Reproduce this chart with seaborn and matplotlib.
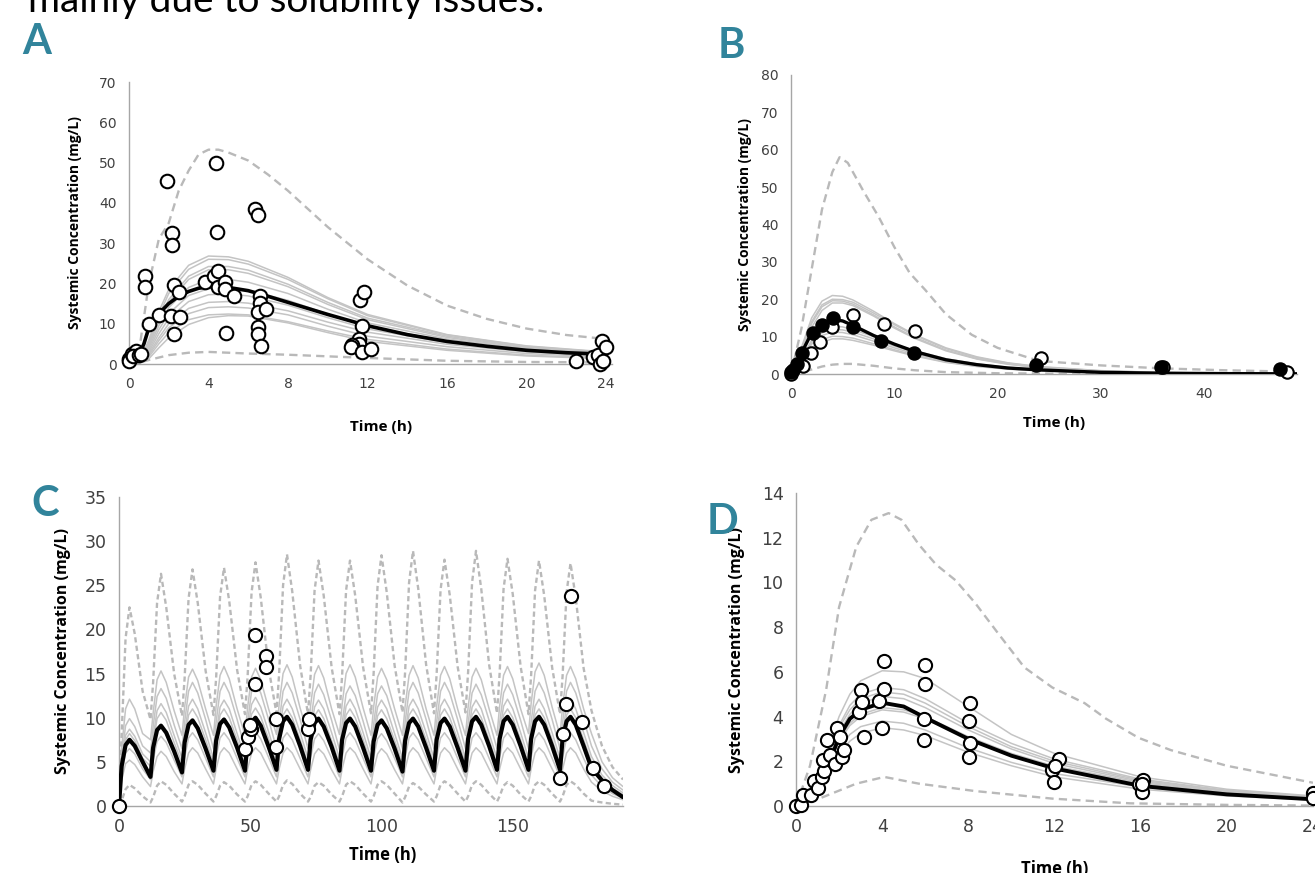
import numpy as np
import pandas as pd
import seaborn as sns
import matplotlib.pyplot as plt

# ---------------- Panel A: single dose, 0-24 h ----------------
A_GRID = [0, 0.5, 1, 1.5, 2, 3, 4, 5, 6, 8, 10, 12, 16, 20, 24]
A_SIMS = [
    [0, 0.3, 6.0, 13.0, 18.5, 24.5, 26.8, 26.6, 25.5, 21.5, 16.5, 12.3, 7.3, 4.5, 3.0],
    [0, 0.3, 5.5, 12.0, 17.5, 23.5, 26.0, 25.9, 24.8, 21.0, 16.2, 12.0, 7.2, 4.4, 2.9],
    [0, 0.3, 5.0, 11.0, 16.0, 21.8, 24.2, 24.2, 23.3, 19.8, 15.3, 11.4, 6.9, 4.2, 2.8],
    [0, 0.3, 4.5, 10.5, 15.3, 21.0, 23.4, 23.4, 22.5, 19.2, 14.8, 11.0, 6.6, 4.0, 2.6],
    [0, 0.3, 4.0, 9.5, 14.0, 19.0, 21.0, 21.0, 20.3, 17.5, 13.6, 10.2, 6.2, 3.8, 2.5],
    [0, 0.3, 3.5, 8.5, 12.5, 17.0, 18.7, 18.9, 18.3, 15.8, 12.4, 9.3, 5.7, 3.5, 2.3],
    [0, 0.2, 3.0, 7.5, 11.3, 15.5, 17.2, 17.4, 16.9, 14.6, 11.5, 8.7, 5.3, 3.3, 2.1],
    [0, 0.2, 2.6, 6.5, 10.0, 13.8, 15.3, 15.5, 15.1, 13.2, 10.4, 7.9, 4.9, 3.0, 1.9],
    [0, 0.2, 2.2, 5.8, 9.0, 12.5, 14.0, 14.2, 13.9, 12.2, 9.4, 6.9, 4.3, 2.6, 1.7],
    [0, 0.2, 1.8, 5.0, 7.8, 11.0, 12.2, 12.4, 12.2, 10.5, 8.2, 6.1, 3.7, 2.2, 1.4],
    [0, 0.1, 1.3, 4.0, 6.5, 9.8, 11.5, 12.0, 11.9, 10.2, 7.8, 5.6, 3.4, 2.0, 1.3],
]
A_MEAN_T = [0, 0.25, 0.5, 0.75, 1, 1.5, 2, 2.5, 3, 3.5, 4, 5, 6, 7, 8, 10, 12, 14, 16, 18, 20, 22, 24]
A_MEAN = [1.0, 1.5, 2.2, 5.0, 9.0, 12.5, 15.0, 16.8, 18.0, 18.8, 19.2, 19.0, 18.2, 16.8, 15.3,
          12.3, 9.5, 7.3, 5.6, 4.4, 3.4, 2.8, 2.4]
A_UP_T = [0, 0.5, 1, 1.5, 2, 2.5, 3, 3.5, 4, 4.5, 5, 6, 7, 8, 10, 12, 14, 16, 18, 20, 22, 24]
A_UP = [0, 3, 20, 31, 35, 43, 48, 52, 53.2, 53.2, 52.5, 50.5, 47, 43, 34, 26, 19.5, 14.5, 11.2, 8.8, 7.2, 6.2]
A_LO_T = [0, 0.5, 1, 2, 3, 4, 6, 8, 10, 12, 16, 20, 24]
A_LO = [0, 0.3, 1.0, 2.2, 2.8, 3.0, 2.6, 2.3, 1.9, 1.5, 0.8, 0.5, 0.4]
A_OBS_T = [0, 0.0, 0.15, 0.33, 0.2, 0.5, 0.6, 0.8, 0.8, 1.0, 1.5, 1.9, 2.18, 2.18, 2.24, 2.1,
           2.27, 2.5, 2.55, 3.8, 4.4, 4.45, 4.3, 4.5, 4.5, 4.85, 4.82, 4.9, 5.27, 6.34, 6.47,
           6.58, 6.58, 6.47, 6.9, 6.5, 6.47, 6.65, 11.6, 11.8, 11.7, 11.57, 11.55, 11.2, 11.15,
           11.7, 12.16, 22.5, 23.35, 23.6, 23.7, 23.8, 24.0, 23.86]
A_OBS_C = [1.2, 0.8, 2.5, 3.3, 2.0, 2.3, 2.5, 21.9, 19.0, 9.9, 12.1, 45.5, 32.6, 29.5, 19.6, 12.0,
           7.4, 17.8, 11.7, 20.4, 49.8, 32.8, 21.9, 23.1, 19.0, 20.4, 18.6, 7.8, 16.8, 38.4, 37.0,
           16.9, 15.1, 13.0, 13.6, 9.3, 7.4, 4.5, 15.9, 17.8, 9.5, 6.2, 5.0, 4.7, 4.1,
           3.1, 3.7, 0.8, 1.7, 2.2, 0.0, 5.6, 4.1, 0.8]

# ---------------- Panel B: single dose, 0-48 h ----------------
B_GRID = [0, 0.5, 1, 2, 3, 4, 5, 6, 8, 10, 12, 15, 18, 21, 24, 30, 36, 42, 49]
B_SIMS = [
    [0, 3.0, 7.0, 15.0, 19.5, 21.0, 20.8, 19.8, 16.8, 13.5, 10.5, 7.0, 4.6, 3.0, 2.0, 0.9, 0.4, 0.2, 0.1],
    [0, 2.8, 6.5, 14.0, 18.5, 20.0, 19.9, 19.2, 16.3, 13.2, 10.3, 6.8, 4.4, 2.9, 1.9, 0.85, 0.4, 0.2, 0.1],
    [0, 2.5, 6.0, 13.5, 18.0, 19.6, 19.5, 18.7, 15.8, 12.6, 9.8, 6.4, 4.1, 2.7, 1.7, 0.8, 0.35, 0.15, 0.1],
    [0, 2.3, 5.5, 12.5, 17.0, 19.0, 19.0, 18.3, 15.5, 12.3, 9.5, 6.2, 4.0, 2.6, 1.7, 0.75, 0.35, 0.15, 0.1],
    [0, 1.6, 4.0, 9.0, 11.8, 12.8, 12.6, 11.9, 10.0, 8.0, 6.2, 4.1, 2.7, 1.8, 1.2, 0.5, 0.25, 0.1, 0.05],
    [0, 1.5, 3.7, 8.5, 11.0, 11.9, 11.8, 11.2, 9.4, 7.5, 5.8, 3.8, 2.5, 1.6, 1.05, 0.45, 0.2, 0.1, 0.05],
    [0, 1.4, 3.4, 8.0, 10.3, 11.2, 11.1, 10.5, 8.8, 7.0, 5.4, 3.5, 2.3, 1.5, 1.0, 0.4, 0.2, 0.1, 0.05],
    [0, 1.2, 3.0, 7.0, 9.2, 10.1, 10.0, 9.6, 8.1, 6.5, 5.0, 3.2, 2.1, 1.4, 0.9, 0.4, 0.2, 0.1, 0.05],
    [0, 1.0, 2.6, 6.3, 8.5, 9.4, 9.4, 9.0, 7.7, 6.2, 4.8, 3.1, 2.0, 1.3, 0.85, 0.35, 0.15, 0.05, 0.05],
]
B_MEAN = [0.5, 2.5, 5.5, 11.0, 13.5, 14.6, 14.2, 13.0, 10.3, 8.0, 6.0, 3.8, 2.5, 1.6, 1.1, 0.45, 0.2, 0.1, 0.05]
B_UP_T = [0, 1, 2, 3, 4, 4.7, 5.5, 7, 8.5, 10, 11.5, 13, 15, 17.5, 20, 24, 30, 36, 42, 49]
B_UP = [0, 12, 28, 44, 54, 58, 56.5, 49, 42, 34, 27, 22.5, 16, 10.5, 7, 3.5, 2.3, 1.5, 1.0, 0.6]
B_LO_T = [0, 1, 2, 3, 4, 5, 6, 8, 10, 12, 15, 20, 30, 49]
B_LO = [0, 0.5, 1.2, 2.0, 2.5, 2.7, 2.7, 2.2, 1.5, 1.0, 0.5, 0.2, 0.05, 0]
B_OPEN_T = [0, 1.2, 1.9, 2.8, 4.0, 6.0, 9.0, 12.0, 24.2, 36.0, 48.0]
B_OPEN_C = [0.0, 2.1, 5.5, 8.5, 12.7, 15.8, 13.3, 11.5, 4.2, 2.0, 0.6]
B_FILL_T = [0, 0.2, 0.6, 1.1, 2.1, 3.0, 4.1, 6.0, 8.75, 11.9, 23.7, 35.8, 47.4]
B_FILL_C = [0.6, 1.0, 2.7, 5.7, 10.9, 13.0, 15.1, 12.7, 8.7, 5.7, 2.4, 1.8, 1.4]

# ---------------- Panel C: repeated dosing every 12 h ----------------
C_GRID = [0, 1, 2.5, 4, 6, 9, 12, 13, 14.5, 16, 18, 21, 24, 25, 26.5, 28, 30, 33,
          36, 37, 38.5, 40, 42, 45, 48, 49, 50.5, 52, 54, 57, 60, 61, 62.5, 64, 66, 69,
          72, 73, 74.5, 76, 78, 81, 84, 85, 86.5, 88, 90, 93, 96, 97, 98.5, 100, 102, 105,
          108, 109, 110.5, 112, 114, 117, 120, 121, 122.5, 124, 126, 129, 132, 133, 134.5, 136, 138, 141,
          144, 145, 146.5, 148, 150, 153, 156, 157, 158.5, 160, 162, 165, 168, 169, 170.5, 172, 174, 177,
          180, 184, 188, 192]
C_MEAN = [0, 4.5, 6.9, 7.5, 6.8, 5.0, 3.3, 6.6, 8.6, 9.1, 8.3, 6.2, 3.8, 7.2, 9.2, 9.7, 8.8, 6.5,
          4.0, 7.4, 9.3, 9.8, 8.9, 6.6, 4.0, 7.5, 9.5, 10.0, 9.1, 6.7, 4.1, 7.6, 9.6, 10.1, 9.2, 6.8,
          4.1, 7.5, 9.4, 9.9, 9.0, 6.7, 4.0, 7.5, 9.4, 9.9, 9.0, 6.6, 4.0, 7.3, 9.2, 9.7, 8.8, 6.5,
          3.9, 7.4, 9.4, 9.9, 9.0, 6.6, 4.0, 7.5, 9.4, 9.9, 9.0, 6.6, 4.0, 7.6, 9.6, 10.1, 9.2, 6.8,
          4.1, 7.6, 9.6, 10.1, 9.2, 6.8, 4.1, 7.6, 9.6, 10.1, 9.2, 6.8, 4.1, 7.6, 9.6, 10.1, 9.2, 6.8,
          4.3, 2.9, 1.8, 1.0]
C_UP = [0, 8.0, 19.0, 22.5, 19.5, 13.0, 9.8, 14.0, 23.0, 26.3, 22.5, 15.0, 10.2, 14.5, 23.5, 26.8, 23.0, 15.3,
        10.3, 14.5, 23.7, 27.0, 23.2, 15.4, 10.4, 14.7, 24.2, 27.6, 23.6, 15.6, 10.5, 15.0, 25.0, 28.5, 24.3, 15.9,
        10.4, 14.8, 24.4, 27.8, 23.8, 15.7, 10.4, 14.8, 24.4, 27.8, 23.8, 15.7, 10.5, 15.0, 24.9, 28.4, 24.2, 15.9,
        10.6, 15.2, 25.3, 28.9, 24.6, 16.0, 10.5, 14.9, 24.5, 27.9, 23.9, 15.8, 10.6, 15.2, 25.3, 28.9, 24.6, 16.0,
        10.5, 15.0, 24.6, 28.0, 24.0, 15.8, 10.4, 14.8, 24.4, 27.8, 23.8, 15.7, 10.4, 14.8, 24.2, 27.5, 23.6, 15.6,
        10.8, 6.8, 4.4, 3.0]
C_LO = [0, 0.6, 1.9, 2.4, 2.0, 1.1, 0.4, 1.0, 2.3, 2.8, 2.4, 1.4, 0.5, 1.1, 2.4, 2.8, 2.4, 1.4,
        0.5, 1.1, 2.3, 2.7, 2.3, 1.3, 0.5, 1.1, 2.4, 2.8, 2.4, 1.4, 0.5, 1.1, 2.4, 2.9, 2.5, 1.4,
        0.5, 1.0, 2.3, 2.7, 2.3, 1.3, 0.5, 1.1, 2.4, 2.8, 2.4, 1.4, 0.5, 1.1, 2.4, 2.8, 2.4, 1.4,
        0.4, 1.0, 2.2, 2.6, 2.2, 1.3, 0.5, 1.1, 2.4, 2.8, 2.4, 1.4, 0.5, 1.1, 2.4, 2.8, 2.4, 1.4,
        0.5, 1.1, 2.3, 2.7, 2.3, 1.3, 0.5, 1.1, 2.4, 2.8, 2.4, 1.4, 0.5, 1.1, 2.4, 2.8, 2.4, 1.4,
        0.6, 0.4, 0.25, 0.15]
C_SIMS = [
    [0, 6.5, 11.0, 12.1, 11.0, 8.2, 7.5, 10.5, 14.3, 15.3, 14.0, 10.8, 8.0, 11.2, 14.6, 15.5, 14.2, 11.0,
     8.0, 11.3, 14.8, 15.8, 14.4, 11.0, 8.0, 11.2, 14.6, 15.6, 14.3, 11.0, 8.1, 11.5, 15.0, 16.0, 14.6, 11.1,
     8.0, 11.4, 14.9, 15.9, 14.5, 11.0, 8.1, 11.5, 15.0, 16.0, 14.6, 11.1, 8.0, 11.2, 14.6, 15.6, 14.3, 11.0,
     8.0, 11.3, 14.8, 15.9, 14.5, 11.0, 8.0, 11.3, 14.8, 15.8, 14.4, 11.0, 8.0, 11.2, 14.6, 15.6, 14.3, 11.0,
     8.0, 11.3, 14.8, 15.8, 14.4, 11.0, 8.2, 11.6, 15.2, 16.2, 14.8, 11.2, 8.0, 11.3, 14.8, 15.8, 14.4, 11.0,
     8.2, 5.0, 3.2, 2.2],
    [0, 5.4, 9.1, 9.9, 9.0, 6.8, 6.0, 9.0, 12.4, 13.3, 12.2, 9.2, 6.5, 9.5, 13.0, 14.0, 12.8, 9.8,
     6.5, 9.5, 13.0, 14.0, 12.8, 9.8, 6.5, 9.5, 13.0, 14.0, 12.8, 9.8, 6.5, 9.5, 13.0, 14.0, 12.8, 9.8,
     6.5, 9.4, 12.8, 13.8, 12.6, 9.7, 6.4, 9.3, 12.7, 13.6, 12.5, 9.6, 6.4, 9.3, 12.7, 13.6, 12.5, 9.6,
     6.5, 9.5, 13.0, 14.0, 12.8, 9.8, 6.5, 9.5, 13.0, 14.0, 12.8, 9.8, 6.5, 9.4, 12.8, 13.8, 12.6, 9.7,
     6.5, 9.4, 12.8, 13.8, 12.6, 9.7, 6.5, 9.5, 13.0, 14.0, 12.8, 9.8, 6.5, 9.5, 13.0, 14.0, 12.8, 9.8,
     6.8, 4.2, 2.7, 1.8],
    [0, 4.8, 8.0, 8.7, 7.9, 5.9, 5.0, 7.8, 10.8, 11.6, 10.6, 8.0, 5.4, 8.3, 11.3, 12.1, 11.0, 8.3,
     5.4, 8.2, 11.2, 12.0, 11.0, 8.2, 5.4, 8.4, 11.5, 12.3, 11.2, 8.4, 5.4, 8.3, 11.3, 12.1, 11.0, 8.3,
     5.4, 8.3, 11.2, 12.0, 11.0, 8.3, 5.4, 8.3, 11.3, 12.1, 11.0, 8.3, 5.4, 8.2, 11.2, 12.0, 11.0, 8.2,
     5.4, 8.3, 11.3, 12.1, 11.0, 8.3, 5.4, 8.3, 11.3, 12.1, 11.0, 8.3, 5.4, 8.2, 11.2, 12.0, 11.0, 8.2,
     5.4, 8.3, 11.3, 12.1, 11.0, 8.3, 5.4, 8.3, 11.3, 12.1, 11.0, 8.3, 5.4, 8.3, 11.3, 12.1, 11.0, 8.3,
     5.6, 3.5, 2.3, 1.5],
    [0, 4.5, 7.5, 8.2, 7.4, 5.4, 4.5, 7.1, 9.9, 10.6, 9.7, 7.2, 4.8, 7.5, 10.3, 11.0, 10.0, 7.5,
     4.8, 7.5, 10.3, 11.0, 10.0, 7.5, 4.8, 7.6, 10.4, 11.1, 10.1, 7.6, 4.8, 7.5, 10.3, 11.0, 10.0, 7.5,
     4.8, 7.4, 10.2, 10.9, 9.9, 7.4, 4.8, 7.5, 10.3, 11.0, 10.0, 7.5, 4.8, 7.4, 10.2, 10.9, 9.9, 7.4,
     4.8, 7.5, 10.3, 11.0, 10.0, 7.5, 4.8, 7.5, 10.3, 11.0, 10.0, 7.5, 4.8, 7.5, 10.3, 11.0, 10.0, 7.5,
     4.8, 7.5, 10.3, 11.0, 10.0, 7.5, 4.8, 7.5, 10.3, 11.0, 10.0, 7.5, 4.8, 7.5, 10.3, 11.0, 10.0, 7.5,
     5.0, 3.1, 2.0, 1.3],
    [0, 3.6, 6.0, 6.5, 5.9, 4.2, 3.0, 5.2, 7.3, 7.9, 7.2, 5.2, 3.3, 5.5, 7.7, 8.3, 7.5, 5.4,
     3.3, 5.5, 7.7, 8.3, 7.5, 5.4, 3.3, 5.6, 7.8, 8.4, 7.6, 5.5, 3.3, 5.5, 7.7, 8.3, 7.5, 5.4,
     3.3, 5.5, 7.6, 8.2, 7.4, 5.4, 3.3, 5.5, 7.7, 8.3, 7.5, 5.4, 3.3, 5.5, 7.6, 8.2, 7.4, 5.4,
     3.3, 5.5, 7.7, 8.3, 7.5, 5.4, 3.3, 5.5, 7.7, 8.3, 7.5, 5.4, 3.3, 5.5, 7.7, 8.3, 7.5, 5.4,
     3.3, 5.5, 7.7, 8.3, 7.5, 5.4, 3.3, 5.5, 7.7, 8.3, 7.5, 5.4, 3.3, 5.5, 7.7, 8.3, 7.5, 5.4,
     3.5, 2.2, 1.4, 0.9],
    [0, 2.9, 4.8, 5.2, 4.7, 3.3, 2.2, 3.9, 5.6, 6.2, 5.6, 3.9, 2.5, 4.2, 6.0, 6.6, 6.0, 4.2,
     2.5, 4.2, 6.0, 6.6, 6.0, 4.2, 2.5, 4.2, 6.0, 6.6, 6.0, 4.2, 2.5, 4.2, 6.0, 6.6, 6.0, 4.2,
     2.5, 4.1, 5.9, 6.5, 5.9, 4.1, 2.5, 4.2, 6.0, 6.6, 6.0, 4.2, 2.5, 4.1, 5.9, 6.5, 5.9, 4.1,
     2.5, 4.2, 6.0, 6.6, 6.0, 4.2, 2.5, 4.2, 6.0, 6.6, 6.0, 4.2, 2.5, 4.2, 6.0, 6.6, 6.0, 4.2,
     2.5, 4.2, 6.0, 6.6, 6.0, 4.2, 2.5, 4.2, 6.0, 6.6, 6.0, 4.2, 2.5, 4.2, 6.0, 6.6, 6.0, 4.2,
     2.7, 1.7, 1.1, 0.7],
]
C_OBS_T = [0, 47.9, 49.0, 50.2, 49.8, 51.9, 51.9, 56.0, 56.0, 59.8, 59.8, 71.9, 72.3,
           168.0, 169.3, 170.4, 172.0, 176.5, 180.5, 184.6]
C_OBS_C = [0, 6.5, 7.8, 8.7, 9.2, 19.4, 13.8, 17.0, 15.8, 9.8, 6.7, 8.7, 9.9,
           3.2, 8.1, 11.5, 23.75, 9.5, 4.25, 2.3]

# ---------------- Panel D: single dose, 0-24 h ----------------
D_GRID = [0, 0.5, 1, 1.5, 2, 2.5, 3, 4, 5, 6, 8, 10, 12, 16, 20, 24]
D_SIMS = [
    [0, 0.3, 1.2, 2.6, 4.0, 5.0, 5.6, 6.05, 6.0, 5.7, 4.45, 3.2, 2.35, 1.3, 0.75, 0.45],
    [0, 0.3, 1.1, 2.4, 3.6, 4.5, 5.0, 5.3, 5.2, 4.8, 3.7, 2.8, 2.1, 1.2, 0.7, 0.42],
    [0, 0.25, 1.0, 2.3, 3.5, 4.3, 4.8, 5.1, 5.0, 4.6, 3.55, 2.65, 2.0, 1.15, 0.68, 0.4],
    [0, 0.25, 1.0, 2.2, 3.3, 4.1, 4.6, 4.9, 4.8, 4.4, 3.4, 2.55, 1.9, 1.1, 0.65, 0.38],
    [0, 0.2, 0.9, 2.0, 3.0, 3.7, 4.1, 4.4, 4.3, 4.0, 3.1, 2.35, 1.78, 1.05, 0.6, 0.36],
    [0, 0.2, 0.8, 1.9, 2.9, 3.6, 4.0, 4.3, 4.2, 3.9, 3.0, 2.3, 1.72, 1.0, 0.58, 0.34],
    [0, 0.2, 0.7, 1.7, 2.6, 3.2, 3.55, 3.8, 3.7, 3.4, 2.6, 1.95, 1.45, 0.85, 0.5, 0.3],
    [0, 0.15, 0.6, 1.5, 2.3, 2.9, 3.25, 3.5, 3.4, 3.15, 2.4, 1.8, 1.3, 0.75, 0.45, 0.27],
]
D_MEAN = [0, 0.2, 0.7, 1.8, 3.1, 3.9, 4.3, 4.62, 4.45, 3.95, 3.0, 2.25, 1.68, 0.9, 0.52, 0.3]
D_UP_T = [0, 0.65, 1.4, 2, 2.8, 3.5, 4.3, 4.9, 5.7, 6.5, 7.4, 8.3, 9.4, 10.6, 11.9, 13.4, 14.4,
          15.9, 17.4, 20, 24]
D_UP = [0, 1.8, 5.2, 8.9, 11.6, 12.8, 13.1, 12.8, 11.7, 10.8, 10.1, 9.1, 7.7, 6.2, 5.3, 4.6, 3.9,
        3.05, 2.5, 1.8, 1.04]
D_LO_T = [0, 1, 2.8, 4.1, 5.7, 8.3, 11.9, 15.5, 20, 24]
D_LO = [0, 0.3, 1.0, 1.3, 1.0, 0.67, 0.33, 0.12, 0.05, 0.02]
D_OBS_T = [0, 0.25, 0.33, 0.7, 0.83, 1.0, 1.2, 1.3, 1.25, 1.43, 1.56, 1.8, 1.9, 2.05, 2.15, 2.25,
           2.92, 3.0, 3.07, 3.16, 3.83, 4.1, 4.1, 4.0, 5.97, 5.97, 5.95, 5.95, 8.1, 8.04, 8.1, 8.04,
           11.87, 12.2, 12.0, 11.96, 15.9, 16.13, 16.04, 16.04, 24.0, 24.0]
D_OBS_C = [0, 0.03, 0.5, 0.5, 1.1, 0.8, 1.3, 1.55, 2.05, 2.95, 2.3, 1.9, 3.5, 3.1, 2.2, 2.5,
           4.2, 5.2, 4.65, 3.1, 4.7, 6.5, 5.25, 3.5, 6.3, 5.45, 3.9, 2.93, 4.6, 3.8, 2.8, 2.2,
           1.6, 2.08, 1.8, 1.08, 0.97, 1.15, 0.62, 1.0, 0.6, 0.37]

# ---------------- styling ----------------
W, H = 1315, 873
GREY = "#c4c4c4"
DASH_GREY = "#b9b9b9"
AXIS_GREY = "#a6a6a6"
TEAL = "#31849b"
TICK_TXT = "#404040"

sns.set_style("white")
plt.rcParams["font.family"] = ["DejaVu Sans"]

fig = plt.figure(figsize=(W / 100, H / 100), dpi=100)


def sim_frame(grid, sims):
    parts = [pd.DataFrame({"t": grid, "c": s, "sim": i}) for i, s in enumerate(sims)]
    return pd.concat(parts, ignore_index=True)


def panel(box, xlim, ylim, xticks, yticks, tick_fs, ylab_fs, xlab_fs, ylab_px, xlab_px):
    x0, x1, ytop, ybot = box
    ax = fig.add_axes([x0 / W, 1 - ybot / H, (x1 - x0) / W, (ybot - ytop) / H])
    ax.set_xlim(*xlim)
    ax.set_ylim(*ylim)
    ax.set_xticks(xticks)
    ax.set_yticks(yticks)
    sns.despine(ax=ax)
    for side in ("left", "bottom"):
        ax.spines[side].set_color(AXIS_GREY)
        ax.spines[side].set_linewidth(1.0)
    ax.tick_params(direction="out", length=4, width=0.9, color=AXIS_GREY,
                   labelcolor=TICK_TXT, labelsize=tick_fs, pad=5)
    ax.set_ylabel("Systemic Concentration (mg/L)", fontsize=ylab_fs, fontweight="bold",
                  family="Open Sans", color="black")
    ax.set_xlabel("Time (h)", fontsize=xlab_fs, fontweight="bold", family="Open Sans", color="black")
    ax.yaxis.label.set_va("center")
    ax.xaxis.label.set_va("center")
    ax.yaxis.set_label_coords((ylab_px[0] - x0) / (x1 - x0), (ybot - ylab_px[1]) / (ybot - ytop))
    ax.xaxis.set_label_coords((xlab_px[0] - x0) / (x1 - x0), (ybot - xlab_px[1]) / (ybot - ytop))
    ax.patch.set_alpha(0)
    return ax


def curves(ax, grid, sims, mean_t, mean_c, up_t, up_c, lo_t, lo_c, dash, mean_lw):
    sns.lineplot(data=sim_frame(grid, sims), x="t", y="c", units="sim", estimator=None,
                 color=GREY, lw=1.1, ax=ax, zorder=1, legend=False)
    for tt, cc in ((up_t, up_c), (lo_t, lo_c)):
        sns.lineplot(x=tt, y=cc, color=DASH_GREY, lw=1.7, linestyle=(0, dash), ax=ax, zorder=2)
    sns.lineplot(x=mean_t, y=mean_c, color="black", lw=mean_lw, ax=ax, zorder=3)


def dots(ax, t, c, face="white", size=80):
    sns.scatterplot(x=t, y=c, color=face, edgecolor="black", linewidth=1.5, s=size,
                    ax=ax, zorder=5, clip_on=False, legend=False)


# Panel A
axA = panel((129, 612, 82, 364), (0, 24.3), (0, 70), range(0, 25, 4), range(0, 71, 10),
            10, 10, 11, (75, 223), (381, 427))
curves(axA, A_GRID, A_SIMS, A_MEAN_T, A_MEAN, A_UP_T, A_UP, A_LO_T, A_LO, (3.5, 2.2), 2.6)
dots(axA, A_OBS_T, A_OBS_C, size=95)

# Panel B
axB = panel((791, 1297, 75, 374), (0, 49), (0, 80), range(0, 41, 10), range(0, 81, 10),
            10, 10, 11, (745, 225), (1054, 423))
curves(axB, B_GRID, B_SIMS, B_GRID, B_MEAN, B_UP_T, B_UP, B_LO_T, B_LO, (3.5, 2.2), 2.4)
dots(axB, B_OPEN_T, B_OPEN_C, size=80)
dots(axB, B_FILL_T, B_FILL_C, face="black", size=80)

# Panel C
axC = panel((119, 623, 497, 806), (0, 192), (0, 35), [0, 50, 100, 150], range(0, 36, 5),
            12.5, 11.5, 12, (63, 651), (383, 855))
curves(axC, C_GRID, C_SIMS, C_GRID, C_MEAN, C_GRID, C_UP, C_GRID, C_LO, (2.2, 1.4), 3.0)
dots(axC, C_OBS_T, C_OBS_C, size=90)

# Panel D
axD = panel((796, 1313, 493, 806), (0, 24), (0, 14), range(0, 25, 4), range(0, 15, 2),
            12.5, 11.5, 12, (737, 650), (1055, 869))
curves(axD, D_GRID, D_SIMS, D_GRID, D_MEAN, D_UP_T, D_UP, D_LO_T, D_LO, (3.5, 2.2), 2.8)
dots(axD, D_OBS_T, D_OBS_C, size=90)

# panel letters and the clipped sentence at the top
for letter, (lx, ly) in {"A": (37, 42), "B": (731, 46), "C": (45, 504), "D": (723, 522)}.items():
    fig.text(lx / W, 1 - ly / H, letter, fontsize=30, fontweight="bold", family="Lato",
             color=TEAL, ha="center", va="center")
fig.text(28 / W, 1 - 12 / H, "mainly due to solubility issues.", fontsize=28, family="Lato",
         color="black", ha="left", va="baseline")

fig.savefig("out.png", dpi=100)
